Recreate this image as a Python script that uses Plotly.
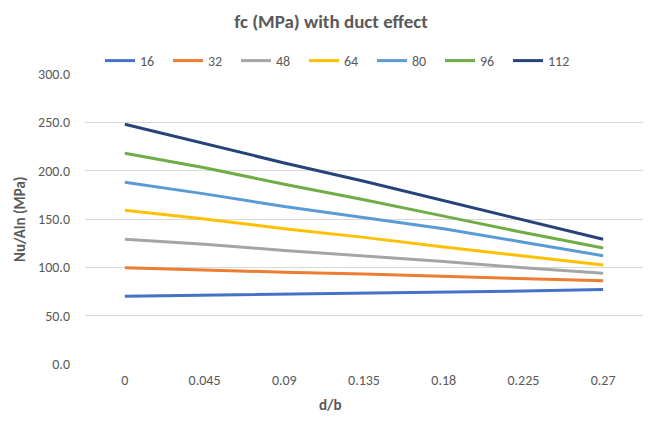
import plotly.graph_objects as go

categories = ["0", "0.045", "0.09", "0.135", "0.18", "0.225", "0.27"]
series_names = ["16", "32", "48", "64", "80", "96", "112"]
s16 = [70, 71, 72.5, 73.5, 74, 75.5, 77]
s32 = [99.5, 97, 95, 93, 90.5, 88, 86]
s48 = [129, 124, 117.5, 112, 106, 99.5, 94]
s64 = [159, 150, 140, 131, 121, 111.5, 102.5]
s80 = [188, 176, 163, 151.5, 140, 126, 112]
s96 = [218, 203, 186, 170, 153, 136, 120]
s112 = [248, 228, 208, 189, 169, 149, 129]
all_series = [s16, s32, s48, s64, s80, s96, s112]
colors = ["#4472C4", "#ED7D31", "#A5A5A5", "#FFC000", "#5B9BD5", "#70AD47", "#264478"]
y_ticks = [0, 50, 100, 150, 200, 250, 300]

FONT = "Calibri, Carlito, Lato, 'Open Sans', sans-serif"
GREY = "#595959"

fig = go.Figure()
for name, vals, col in zip(series_names, all_series, colors):
    fig.add_trace(go.Scatter(x=categories, y=vals, name=name, mode="lines",
                             line=dict(color=col, width=3)))

W, H = 648, 428
L, R, T, B = 85, 5, 74, 64
PW, PH = W - L - R, H - T - B
fig.update_layout(
    width=W, height=H,
    margin=dict(l=L, r=R, t=T, b=B, autoexpand=False),
    paper_bgcolor="white", plot_bgcolor="white",
    font=dict(family=FONT, color=GREY, size=14),
    title=dict(text="<b>fc (MPa) with duct effect</b>", x=331 / W, xanchor="center",
               xref="container", y=1 - 21 / H, yref="container", yanchor="middle",
               font=dict(size=19, color=GREY, family=FONT)),
    legend=dict(orientation="h", x=(100 - L) / PW, xref="paper", xanchor="left",
                y=(H - B - 61) / PH, yref="paper", yanchor="middle",
                font=dict(size=14, color=GREY), itemwidth=30,
                entrywidth=23, entrywidthmode="pixels",
                tracegroupgap=0, bgcolor="rgba(0,0,0,0)"),
    showlegend=True,
)
fig.update_xaxes(type="category", range=[-0.5, 6.5], showgrid=False, zeroline=False,
                 showline=False, ticks="", tickfont=dict(size=14, color=GREY),
                 ticklabelstandoff=6, automargin=False)
fig.update_yaxes(range=[0, 300], tickvals=y_ticks,
                 ticktext=[f"{v:.1f}" for v in y_ticks], showgrid=True,
                 gridcolor="#D9D9D9", gridwidth=1, zeroline=False, showline=False,
                 ticks="", tickfont=dict(size=14, color=GREY), ticklabelstandoff=14,
                 automargin=False)

fig.add_annotation(text="<b>Nu/Aln (MPa)</b>", xref="paper", yref="paper",
                   x=(20 - L) / PW, y=(H - B - 220) / PH, textangle=-90, showarrow=False,
                   font=dict(size=15, color=GREY), xanchor="center", yanchor="middle")
fig.add_annotation(text="<b>d/b</b>", xref="paper", yref="paper",
                   x=(330 - L) / PW, y=(H - B - 405) / PH,
                   showarrow=False, font=dict(size=15, color=GREY),
                   xanchor="center", yanchor="middle")

fig.write_html("out.html")
